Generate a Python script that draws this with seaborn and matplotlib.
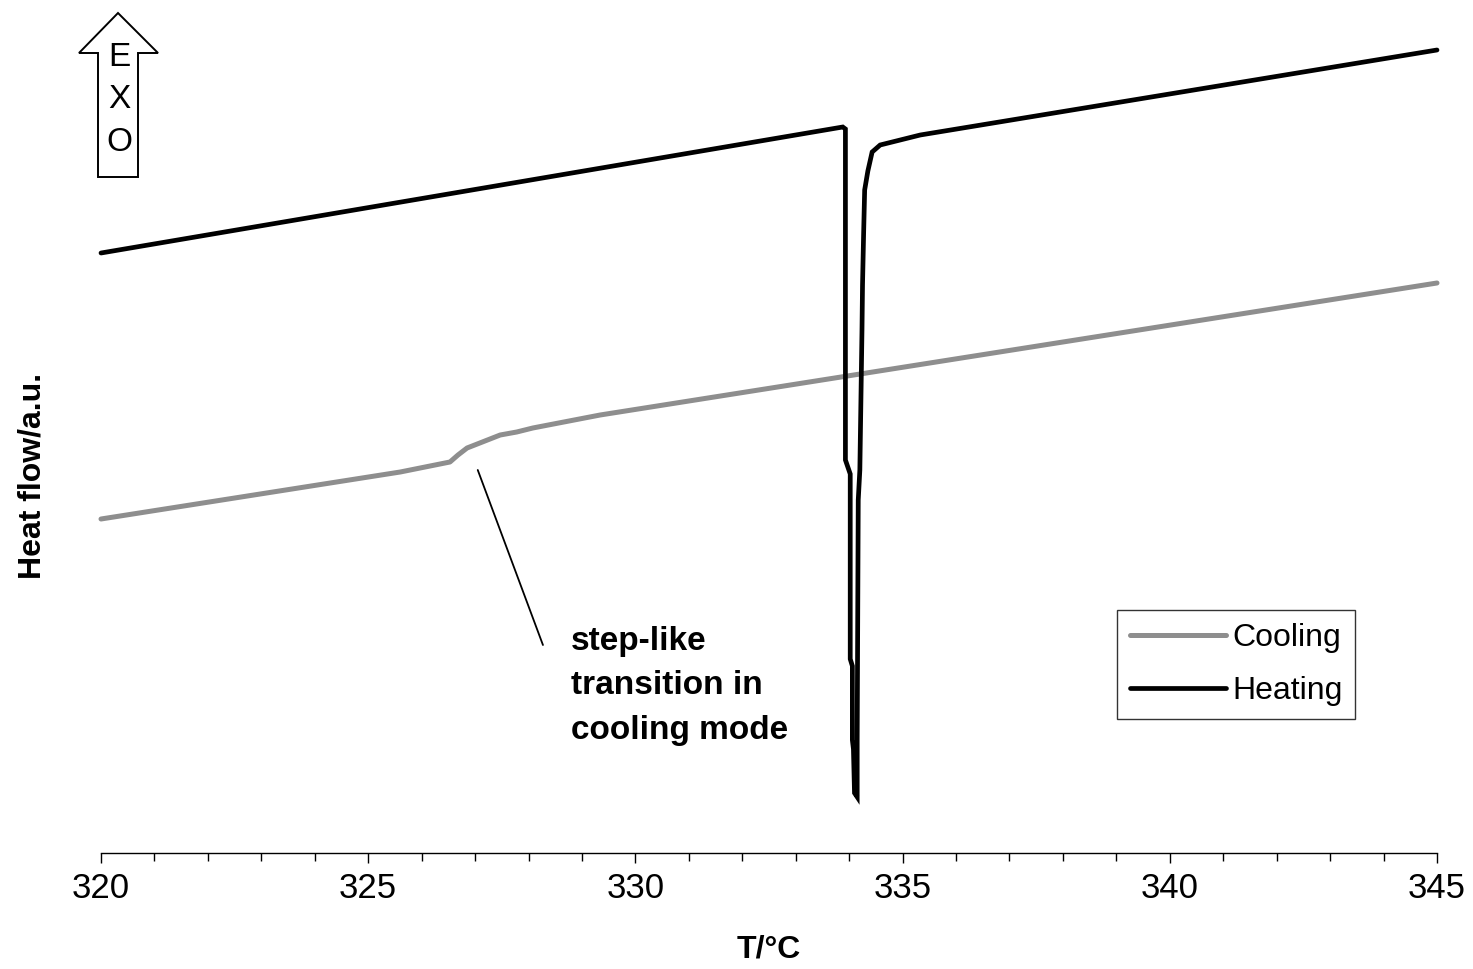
import matplotlib
matplotlib.use("Agg")
import matplotlib.pyplot as plt
import seaborn as sns
import pandas as pd
from matplotlib.patches import Polygon
from matplotlib.lines import Line2D
from matplotlib.ticker import MultipleLocator

# ---- data ----
heat_T = [320.0, 333.88, 333.93, 333.93, 334.02, 334.02, 334.06, 334.06, 334.08, 334.10,
          334.15, 334.15, 334.17, 334.20, 334.24, 334.25, 334.27, 334.29, 334.35, 334.43,
          334.58, 335.33, 345.0]
heat_q = [6.00, 7.26, 7.24, 3.93, 3.79, 1.94, 1.87, 1.13, 1.04, 0.60,
          0.56, 1.13, 3.53, 3.83, 5.23, 5.68, 6.18, 6.63, 6.82, 7.01,
          7.08, 7.18, 8.03]
cool_T = [320.0, 325.60, 326.53, 326.68, 326.85, 327.47, 327.78, 328.08, 329.34, 345.0]
cool_q = [3.34, 3.81, 3.91, 3.98, 4.05, 4.18, 4.21, 4.25, 4.38, 5.70]
series_names = ["Cooling", "Heating"]
xticks_major = [320, 325, 330, 335, 340, 345]
pointer_T = [327.05, 328.27]
pointer_q = [3.83, 2.08]
note_text = "step-like\ntransition in\ncooling mode"

sns.set_theme(style="white")
plt.rcParams['font.family'] = ['Liberation Sans', 'DejaVu Sans']
plt.rcParams['text.color'] = 'black'
plt.rcParams['axes.labelcolor'] = 'black'
plt.rcParams['xtick.color'] = 'black'
plt.rcParams['ytick.color'] = 'black'

fig = plt.figure(figsize=(14.73, 9.69), dpi=100)
ax = fig.add_axes([101/1473, 1 - 853/969, 1336/1473, 813/969])

df_h = pd.DataFrame({"T": heat_T, "q": heat_q})
df_c = pd.DataFrame({"T": cool_T, "q": cool_q})

sns.lineplot(data=df_c, x="T", y="q", sort=False, estimator=None, ax=ax,
             color="#8e8e8e", lw=3.6, legend=False)
sns.lineplot(data=df_h, x="T", y="q", sort=False, estimator=None, ax=ax,
             color="black", lw=3.4, legend=False, solid_joinstyle="miter")
for l in ax.lines:
    l.set_clip_on(False)

ax.plot(pointer_T, pointer_q, color="black", lw=1.3)
ax.text(328.80, 1.67, note_text, fontsize=24, fontweight="bold", ha="left",
        va="center", linespacing=1.57, color="black")

ax.set_xlim(320, 345)
ax.set_ylim(0, 8.13)
ax.set_xticks(xticks_major)
ax.xaxis.set_minor_locator(MultipleLocator(1))
ax.set_yticks([])
for s in ["left", "right", "top"]:
    ax.spines[s].set_visible(False)
ax.spines["bottom"].set_color("black")
ax.spines["bottom"].set_linewidth(1.0)
ax.tick_params(axis="x", which="major", direction="out", length=7.5, width=1.0,
               color="black", labelsize=25, pad=6, bottom=True, labelcolor="black")
ax.tick_params(axis="x", which="minor", direction="out", length=6, width=1.0,
               color="black", bottom=True)

ax.set_xlabel("T/°C", fontsize=23, fontweight="bold", color="black")
ax.set_ylabel("Heat flow/a.u.", fontsize=23, fontweight="bold", color="black")
ax.xaxis.set_label_coords(0.5, -0.100)
ax.yaxis.set_label_coords(-0.040, 0.464)

handles = [Line2D([0], [0], color="#8e8e8e", lw=3.6),
           Line2D([0], [0], color="black", lw=3.4, solid_capstyle="round")]
leg = ax.legend(handles, series_names, loc="upper left",
                bbox_to_anchor=((1117-101)/1336, (853-610)/813),
                fontsize=23, frameon=True, fancybox=False, handlelength=3.0,
                handletextpad=0.2, labelspacing=0.72, borderpad=0.4,
                borderaxespad=0, edgecolor="black")
leg.get_frame().set_linewidth(1.0)
for t in leg.get_texts():
    t.set_color("black")

# EXO arrow (figure pixel positions)
def fp(x, y):
    return (x/1473, 1 - y/969)
pts = [fp(118, 13), fp(79, 53), fp(98, 53), fp(98, 177), fp(138, 177), fp(138, 53), fp(158, 53)]
fig.patches.append(Polygon(pts, closed=True, fill=False, edgecolor="black", lw=1.4,
                           transform=fig.transFigure, joinstyle="miter"))
for ch, yy in zip("EXO", [57, 99, 142]):
    fig.text(*fp(119, yy), ch, fontsize=24, ha="center", va="center", color="black")

fig.savefig("out.png", dpi=100, facecolor="white")
